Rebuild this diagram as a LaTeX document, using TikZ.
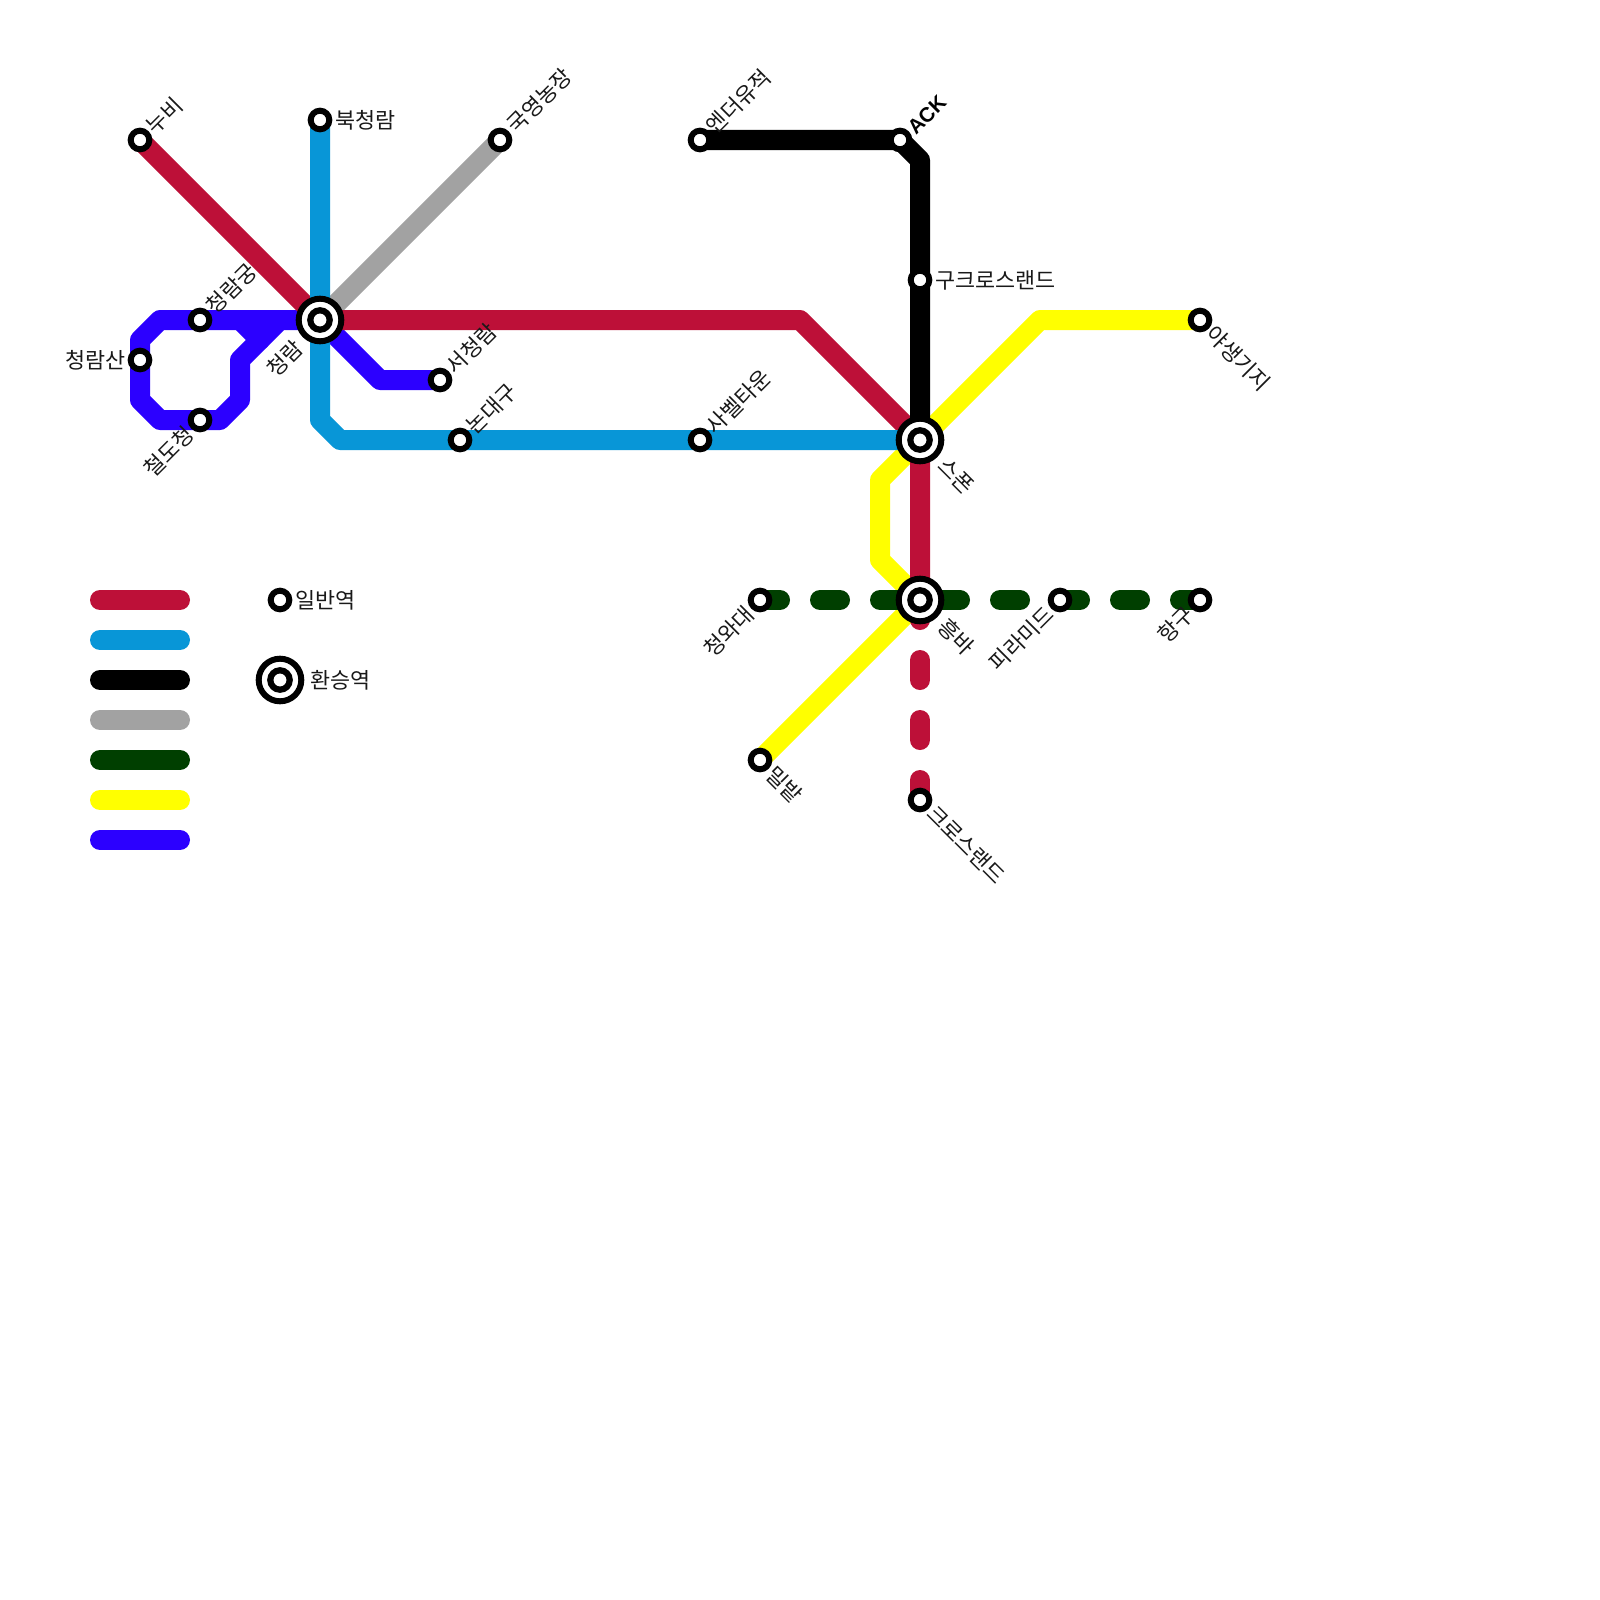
\documentclass[tikz,border=0pt]{standalone}
\usepackage{fontspec}
\setmainfont{Noto Sans CJK KR}
\newfontfamily\latinfont{Liberation Sans}[Scale=1]
\definecolor{cred}{HTML}{BD1038}
\definecolor{cblue}{HTML}{0896D7}
\definecolor{cgray}{HTML}{A2A2A2}
\definecolor{cgreen}{HTML}{003F00}
\definecolor{cyellow}{HTML}{FFFF00}
\definecolor{cpurple}{HTML}{2C00FF}
\tikzset{
  x=1pt,y=-1pt,
  metro/.style={line width=20pt,line cap=round,line join=round},
  dashline/.style={metro,dash pattern=on 20pt off 40pt},
  plain/.style={circle,draw=black,fill=white,line width=6pt,minimum size=18.6pt,inner sep=0pt,outer sep=0pt},
  hubouter/.style={circle,draw=black,fill=white,line width=6pt,minimum size=42.6pt,inner sep=0pt,outer sep=0pt},
  hubinner/.style={circle,draw=black,fill=white,line width=6.2pt,minimum size=19.4pt,inner sep=0pt,outer sep=0pt},
  lab/.style={font=\fontsize{21.8}{22}\selectfont,inner sep=0pt,text=black!90},
  ne/.style={lab,rotate=45,anchor=west},
  se/.style={lab,rotate=-45,anchor=west},
  sw/.style={lab,rotate=45,anchor=east},
  ea/.style={lab,anchor=west},
  we/.style={lab,anchor=east},
}
\begin{document}
\begin{tikzpicture}
\useasboundingbox (0,0) rectangle (1600,1600);
\fill[white] (0,0) rectangle (1600,1600);
% coordinates
\coordinate (c1) at (160,320);\coordinate (c2) at (140,340);\coordinate (c3) at (140,400);
\coordinate (c4) at (160,420);\coordinate (c5) at (220,420);\coordinate (c6) at (240,400);
\coordinate (c7) at (240,360);\coordinate (c8) at (280,320);\coordinate (c9) at (240,320);\coordinate (c10) at (260,340);
\coordinate (c11) at (380,380);\coordinate (c12) at (340,340);
\coordinate (r1) at (800,320);\coordinate (r2) at (920,440);
\coordinate (b1) at (320,420);\coordinate (b2) at (340,440);
\coordinate (k1) at (920,160);
\coordinate (y1) at (880,560);\coordinate (y2) at (880,480);\coordinate (y3) at (1040,320);
\coordinate (hubA) at (320,320);\coordinate (hubB) at (920,440);\coordinate (hubC) at (920,600);
% stations as nodes (named first, painted later)
\path (140,140) coordinate (nubi) (320,120) coordinate (bukc) (500,140) coordinate (gukn)
 (700,140) coordinate (ender) (900,140) coordinate (ack) (920,280) coordinate (guk)
 (1200,320) coordinate (yas) (200,320) coordinate (cgung) (140,360) coordinate (csan)
 (200,420) coordinate (cdo) (440,380) coordinate (secr) (460,440) coordinate (nond)
 (700,440) coordinate (sab) (760,600) coordinate (cwd) (1060,600) coordinate (pir)
 (1200,600) coordinate (hang) (760,760) coordinate (mil) (920,800) coordinate (cross);
% lines
\draw[metro,cyellow] (mil) -- (hubC) -- (y1) -- (y2) -- (hubB) -- (y3) -- (yas);
\draw[metro,cpurple] (hubA) -- (c1) -- (c2) -- (c3) -- (c4) -- (c5) -- (c6) -- (c7) -- (c8);
\draw[metro,cpurple] (c9) -- (c10);
\draw[metro,cpurple] (hubA) -- (c12) -- (c11) -- (secr);
\draw[metro,cgray] (hubA) -- (gukn);
\draw[dashline,cgreen] (cwd) -- (hang);
\draw[metro,cred] (nubi) -- (hubA) -- (r1) -- (r2) -- (hubC);
\draw[dashline,cred] (hubC) -- (cross);
\draw[metro,cblue] (bukc) -- (b1) -- (b2) -- (hubB);
\draw[metro,black] (ender) -- (ack) -- (k1) -- (hubB);
% legend
\foreach \n/\col/\yy in {1/cred/600,2/cblue/640,3/black/680,4/cgray/720,5/cgreen/760,6/cyellow/800,7/cpurple/840}{
  \draw[metro,\col] (100,\yy) -- (180,\yy);
}
% stations
\foreach \c in {nubi,bukc,gukn,ender,ack,guk,yas,cgung,csan,cdo,secr,nond,sab,cwd,pir,hang,mil,cross}{
  \node[plain] at (\c) {};
}
\node[plain] (legplain) at (280,600) {};
\node[hubouter] (legouter) at (280,680) {};
\node[hubinner] (leginner) at (280,680) {};
\foreach \c in {hubA,hubB,hubC}{
  \node[hubouter] at (\c) {};
  \node[hubinner] at (\c) {};
}
% labels
\node[ne] (t1) at (150,130) {누비};
\node[ea] (t2) at (335,120) {북청람};
\node[ne] (t3) at (511,129) {국영농장};
\node[ne] (t4) at (710,130) {엔더유적};
\node[ne,font=\latinfont\bfseries\fontsize{20.6}{22}\selectfont,text=black] (t5) at (911,131) {ACK};
\node[ea] (t6) at (935,280) {구크로스랜드};
\node[se] (t7) at (1210,330) {야생기지};
\node[ne] (t8) at (210,310) {청람궁};
\node[we] (t9) at (126,360) {청람산};
\node[sw] (t10) at (190,430) {철도청};
\node[sw] (t11) at (299,344) {청람};
\node[ne] (t12) at (450,370) {서청람};
\node[ne] (t13) at (470,430) {논대구};
\node[ne] (t14) at (710,430) {사벨타운};
\node[se] (t15) at (942,462) {스폰};
\node[sw] (t16) at (750,610) {청와대};
\node[se] (t17) at (942,622) {흥바};
\node[sw] (t18) at (1050,610) {피라미드};
\node[sw] (t19) at (1190,610) {항구};
\node[se] (t20) at (770,770) {밀밭};
\node[se] (t21) at (931,809) {크로스랜드};
\node[ea] (t22) at (295,600) {일반역};
\node[ea] (t23) at (310,680) {환승역};
\end{tikzpicture}
\end{document}
